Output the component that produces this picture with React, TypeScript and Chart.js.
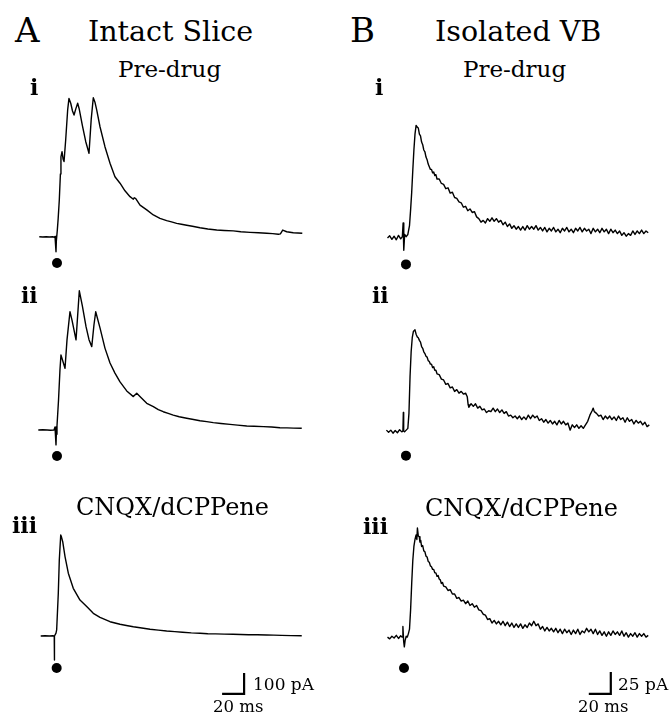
import React, { useEffect, useRef } from "react";
import { Chart, registerables } from "chart.js";

Chart.register(...registerables);

type Pt = [number, number]; // [time in ms relative to stimulus, current in pA]

// ---------- DATA ----------
// A: Intact slice (100 pA scale)
const traceAi: Pt[] = [
  [-15.2, 1], [-12, 0], [-9, 1.5], [-6, 0], [-3, 1], [-1.5, -1], [-0.9, 3], [0, -70], [0.3, -20], [1.2, 33],
  [2, 90], [3, 176], [4, 300], [4.5, 382], [5.5, 406], [6.5, 370], [7.3, 359], [8.8, 462], [10.6, 605],
  [11.8, 660], [13.4, 637], [15, 600], [16.4, 581], [18, 610], [19.7, 637], [21, 612], [24, 530], [27, 455],
  [30, 399], [32, 560], [33.9, 663], [35.5, 640], [37, 605], [40, 525], [44.5, 430], [49.1, 351], [53.6, 287],
  [58.2, 256], [62.7, 220], [67.3, 192], [70.3, 180], [71.2, 187], [72.5, 183], [76.4, 152], [82.5, 129],
  [88.5, 105], [94.5, 89], [100.6, 78], [105, 72], [109.7, 65], [114, 61], [118.8, 56], [124, 51], [130.9, 44],
  [138, 38], [146.1, 33], [153, 31], [161.2, 29], [168, 25], [176.4, 22], [184, 20], [191.5, 18], [197, 16],
  [202.1, 13], [204, 15], [206.1, 33], [209.7, 25], [215.7, 20], [223.9, 18],
];

const traceAii: Pt[] = [
  [-16.1, 0], [-12, 1], [-8, 0], [-5, -1], [-1.8, 0], [-0.9, 14], [0, -71], [0.3, -20], [0.9, 19], [2.3, 143],
  [3.6, 286], [4.5, 357], [5.9, 333], [8.2, 294], [10, 429], [12.7, 563], [14.5, 524], [18.2, 429], [21.2, 663],
  [24, 590], [27.3, 492], [30, 430], [32.5, 397], [34.5, 500], [36.1, 563], [40, 486], [44.5, 390], [49.1, 319],
  [53.6, 271], [58.2, 229], [64.3, 186], [70.3, 159], [73.4, 175], [77.9, 151], [82.5, 127], [88.5, 111],
  [93, 97], [97.5, 87], [102, 79], [106.6, 71], [112, 63], [118.8, 56], [125, 50], [130.9, 44], [137, 40],
  [143, 35], [150, 31], [158.2, 27], [165, 23], [173.4, 19], [180, 18], [188.5, 16], [196, 14], [203.6, 11],
  [210, 10], [216, 9], [223.4, 8],
];

const traceAiii: Pt[] = [
  [-13.9, 0], [-10, 1], [-6, 0], [-3, 1], [-1.6, 0], [-1.5, -114], [-1.3, 0], [0, 14], [0.6, 29], [2.1, 205],
  [3, 362], [4.3, 481], [5, 471], [6.1, 449], [8.2, 378], [11.2, 299], [15.7, 227], [21.8, 171], [27.9, 140],
  [33.9, 108], [40, 89], [49.1, 68], [58.2, 56], [64, 50], [70.3, 44], [78, 38], [85.5, 32], [93, 28],
  [100.6, 24], [108, 21], [115, 18], [123, 15], [130.9, 13], [138, 11], [145, 10], [153, 9], [160.9, 8],
  [168, 7], [175, 6], [183, 6], [191.5, 5], [198, 4], [205, 3], [214, 2], [223.4, 1],
];

// B: Isolated VB (25 pA scale)
const traceBi: Pt[] = [
  [-15, 0], [-13, 2.5], [-11, -1.5], [-9, 2], [-7, -2], [-5, 3], [-3, -1], [-1.5, 1.5], [-0.8, 17], [-0.2, -14],
  [0.6, 4], [2, 1.5], [3.5, 4], [5, 14], [6, 32], [7, 52], [8, 77], [9, 100], [10, 118], [11, 128], [12, 126],
  [13, 125], [14, 118], [15, 116], [16, 109], [17, 106], [18, 100], [19, 98], [20, 92], [21, 89], [22, 84],
  [23, 81], [24, 78], [25, 78], [26, 74], [27, 75], [28, 71], [29, 72], [30, 67], [32, 67], [34, 62], [36, 61],
  [38, 56], [40, 57], [42, 51], [44, 52], [46, 46], [48, 45], [50, 41], [52, 40], [54, 35], [56, 36], [58, 31],
  [60, 33], [62, 29], [64, 30], [66, 24], [68, 22], [70, 18], [72, 20], [74, 17], [76, 22], [78, 19], [80, 23],
  [82, 19], [84, 22], [86, 18], [88, 20], [90, 15], [92, 18], [94, 13], [96, 16], [98, 11], [100, 14], [102, 10],
  [104, 13], [106, 9], [108, 13], [110, 9], [112, 14], [114, 10], [116, 13], [118, 10], [120, 14], [122, 9],
  [124, 12], [126, 8], [128, 12], [130, 7], [132, 11], [134, 8], [136, 12], [138, 7], [140, 10], [142, 6],
  [144, 11], [146, 8], [148, 12], [150, 7], [152, 10], [154, 6], [156, 11], [158, 8], [160, 12], [162, 7],
  [164, 11], [166, 8], [168, 10], [170, 5], [172, 11], [174, 7], [176, 10], [178, 6], [180, 11], [182, 7],
  [184, 10], [186, 5], [188, 10], [190, 6], [192, 9], [194, 5], [196, 8], [198, 3], [200, 6], [202, 2], [204, 5],
  [206, 3], [208, 8], [210, 4], [212, 8], [214, 5], [216, 9], [218, 5], [220, 8], [222, 6],
];

const traceBii: Pt[] = [
  [-16, 1], [-14, -1.5], [-12, 1], [-10, -2.5], [-8, 0.5], [-6, -2], [-4, 1.5], [-2, -1], [-1, 0], [-0.6, 21],
  [-0.3, 0], [0.5, -1], [2, 1], [3.5, 3], [4.5, 20], [5.5, 62], [6.5, 90], [7.5, 106], [8.5, 113], [10, 115],
  [11, 110], [12, 107], [13, 106], [14, 103], [15, 101], [16, 96], [17, 94], [18, 90], [19, 88], [20, 85],
  [21, 84], [22, 80], [23, 79], [24, 76], [25, 76], [26, 72], [27, 73], [28, 69], [29, 69], [30, 65], [32, 64],
  [34, 59], [36, 58], [38, 53], [40, 54], [42, 49], [44, 50], [46, 45], [48, 47], [50, 43], [52, 45], [54, 42],
  [56, 43], [57.5, 39], [58.3, 30], [59, 27], [61, 31], [63, 28], [65, 31], [67, 26], [69, 28], [71, 24],
  [73, 25], [75, 21], [77, 23], [79, 22], [81, 26], [83, 22], [85, 25], [87, 21], [89, 24], [91, 20], [93, 22],
  [95, 17], [97, 18], [99, 15], [101, 17], [103, 14], [105, 17], [107, 13], [109, 16], [111, 13], [113, 18],
  [115, 14], [117, 18], [119, 15], [121, 17], [123, 12], [125, 14], [127, 10], [129, 13], [131, 9], [133, 12],
  [135, 8], [137, 11], [139, 7], [141, 12], [143, 8], [145, 11], [147, 7], [149, 9], [151, 1], [153, 7],
  [155, 4], [157, 7], [159, 3], [161, 6], [163, 3], [165, 7], [167, 11], [169, 18], [171, 23], [172, 26],
  [173, 22], [175, 20], [177, 17], [179, 18], [181, 13], [183, 17], [185, 14], [187, 17], [189, 13], [191, 16],
  [193, 12], [195, 17], [197, 13], [199, 15], [201, 10], [203, 15], [205, 11], [207, 13], [209, 8], [211, 12],
  [213, 9], [215, 11], [217, 7], [219, 10], [221, 5], [223, 7],
];

const traceBiii: Pt[] = [
  [-15, 1], [-13, -1], [-11, 2], [-9, 0], [-7, 3], [-5, -0.5], [-3, 2.5], [-1.8, 1], [-1, 13], [-0.3, -4],
  [0.3, -10], [1, -3], [2, 2], [3, 1], [4, 5], [5, 10], [6, 32], [7, 62], [8, 88], [9, 104], [10, 112],
  [11, 117], [11.7, 112], [12.2, 125], [13, 116], [13.9, 115], [14.5, 109], [15.2, 111], [16, 104], [17, 105],
  [18, 99], [19, 98], [20, 93], [21, 92], [22, 87], [23, 86], [24, 82], [25, 81], [26, 78], [27, 78], [28, 74],
  [29, 74], [30, 70], [31, 71], [32, 67], [33, 66], [34, 62], [35, 63], [36, 59], [38, 58], [40, 54], [42, 55],
  [44, 50], [46, 50], [48, 45], [50, 46], [52, 42], [54, 43], [56, 39], [58, 42], [60, 37], [62, 39], [64, 35],
  [66, 37], [68, 32], [70, 31], [72, 27], [74, 26], [76, 21], [78, 22], [80, 17], [82, 20], [84, 16], [86, 19],
  [88, 15], [90, 19], [92, 14], [94, 18], [96, 13], [98, 17], [100, 12], [102, 16], [104, 12], [106, 16],
  [108, 11], [110, 15], [112, 12], [114, 17], [116, 14], [118, 19], [120, 14], [122, 16], [124, 10], [126, 13],
  [128, 8], [130, 12], [132, 8], [134, 11], [136, 7], [138, 11], [140, 6], [142, 10], [144, 5], [146, 10],
  [148, 6], [150, 9], [152, 4], [154, 9], [156, 5], [158, 10], [160, 4], [162, 8], [164, 6], [166, 11], [168, 7],
  [170, 10], [172, 5], [174, 10], [176, 4], [178, 8], [180, 3], [182, 7], [184, 2], [186, 7], [188, 3], [190, 8],
  [192, 4], [194, 7], [196, 3], [198, 8], [200, 2], [202, 6], [204, 1], [206, 5], [208, 2], [210, 6], [212, 1],
  [214, 5], [216, 2], [218, 5], [220, 1], [222, 3],
];

// stimulus markers (time ms, level pA in each panel's units)
const stimDotMs = [0.9, 0.9, 0.6, 1.8, 1.8, 0];
const stimDotPA = [-124, -124, -152, -30, -28, -34];

// scale bars
const scaleBarMs = 20;
const scaleBarPA_A = 100;
const scaleBarPA_B = 25;

// text
const columnLetters = ["A", "B"];
const columnTitles = ["Intact Slice", "Isolated VB"];
const conditionLabels = ["Pre-drug", "CNQX/dCPPene"];
const rowLabels = ["i", "ii", "iii"];
const scaleLabelsA = ["100 pA", "20 ms"];
const scaleLabelsB = ["25 pA", "20 ms"];

// ---------- LAYOUT ----------
const FONT = "'DejaVu Serif', 'Liberation Serif', serif";

interface PanelCfg {
  left: number; top: number; width: number; height: number;
  stimX: number; baseY: number; pxPerMs: number; pxPerPA: number;
  trace: Pt[]; dotMs: number; dotPA: number;
  bar?: { t0: number; y0: number; ms: number; pA: number };
}

const A = { pxPerMs: 1.1, pxPerPA: 0.21 };
const B = { pxPerMs: 1.1, pxPerPA: 0.88 };

const panels: PanelCfg[] = [
  { left: 30, top: 90, width: 290, height: 185, stimX: 56, baseY: 237, ...A, trace: traceAi, dotMs: stimDotMs[0], dotPA: stimDotPA[0] },
  { left: 30, top: 280, width: 290, height: 185, stimX: 56, baseY: 430, ...A, trace: traceAii, dotMs: stimDotMs[1], dotPA: stimDotPA[1] },
  { left: 30, top: 520, width: 290, height: 185, stimX: 56, baseY: 636, ...A, trace: traceAiii, dotMs: stimDotMs[2], dotPA: stimDotPA[2],
    bar: { t0: 151, y0: -276, ms: scaleBarMs, pA: scaleBarPA_A } },
  { left: 380, top: 90, width: 290, height: 185, stimX: 404, baseY: 238, ...B, trace: traceBi, dotMs: stimDotMs[3], dotPA: stimDotPA[3] },
  { left: 380, top: 280, width: 290, height: 185, stimX: 404, baseY: 431, ...B, trace: traceBii, dotMs: stimDotMs[4], dotPA: stimDotPA[4] },
  { left: 380, top: 520, width: 290, height: 185, stimX: 404, baseY: 638, ...B, trace: traceBiii, dotMs: stimDotMs[5], dotPA: stimDotPA[5],
    bar: { t0: 168, y0: -63.6, ms: scaleBarMs, pA: scaleBarPA_B } },
];

function TracePanel({ cfg }: { cfg: PanelCfg }) {
  const ref = useRef<HTMLCanvasElement>(null);
  useEffect(() => {
    if (!ref.current) return;
    const xMin = -(cfg.stimX - cfg.left) / cfg.pxPerMs;
    const xMax = xMin + cfg.width / cfg.pxPerMs;
    const yMax = (cfg.baseY - cfg.top) / cfg.pxPerPA;
    const yMin = yMax - cfg.height / cfg.pxPerPA;
    const datasets: any[] = [
      {
        data: cfg.trace.map(([x, y]) => ({ x, y })),
        showLine: true, borderColor: "#000", borderWidth: 1.4, pointRadius: 0,
        tension: 0, borderJoinStyle: "round", clip: false,
      },
      {
        data: [{ x: cfg.dotMs, y: cfg.dotPA }],
        showLine: false, pointRadius: 5, pointBackgroundColor: "#000", pointBorderColor: "#000",
        pointBorderWidth: 0, clip: false,
      },
    ];
    if (cfg.bar) {
      const b = cfg.bar;
      datasets.push({
        data: [
          { x: b.t0, y: b.y0 },
          { x: b.t0 + b.ms, y: b.y0 },
          { x: b.t0 + b.ms, y: b.y0 + b.pA },
        ],
        showLine: true, borderColor: "#000", borderWidth: 2.2, pointRadius: 0,
        borderJoinStyle: "miter", borderCapStyle: "butt", clip: false,
      });
    }
    const chart = new Chart(ref.current, {
      type: "scatter",
      data: { datasets },
      options: {
        animation: false, responsive: false, maintainAspectRatio: false, devicePixelRatio: 1,
        layout: { padding: 0, autoPadding: false },
        plugins: { legend: { display: false }, tooltip: { enabled: false }, title: { display: false } },
        events: [],
        scales: {
          x: { type: "linear", display: false, min: xMin, max: xMax },
          y: { type: "linear", display: false, min: yMin, max: yMax },
        },
      } as any,
    });
    return () => chart.destroy();
  }, [cfg]);
  return (
    <canvas
      ref={ref}
      width={cfg.width}
      height={cfg.height}
      style={{ position: "absolute", left: cfg.left, top: cfg.top, width: cfg.width, height: cfg.height }}
    />
  );
}

function Label({ text, x, baseline, size, weight }: { text: string; x: number; baseline: number; size: number; weight?: number }) {
  return (
    <span
      style={{
        position: "absolute", left: x, top: baseline - 0.846 * size, fontFamily: FONT, fontSize: size,
        lineHeight: `${size}px`, whiteSpace: "nowrap", color: "#000", fontWeight: weight ?? 400,
      }}
    >
      {text}
    </span>
  );
}

export default function App() {
  return (
    <div style={{ position: "absolute", left: 0, top: 0, width: 671, height: 715, background: "#fff", overflow: "hidden" }}>
      {panels.map((p, i) => (
        <TracePanel key={i} cfg={p} />
      ))}
      <Label text={columnLetters[0]} x={15} baseline={42} size={34} />
      <Label text={columnTitles[0]} x={88} baseline={42} size={28.5} />
      <Label text={columnLetters[1]} x={350} baseline={42} size={34} />
      <Label text={columnTitles[1]} x={435} baseline={42} size={28.5} />

      <Label text={conditionLabels[0]} x={118} baseline={77} size={23} />
      <Label text={conditionLabels[0]} x={463} baseline={77} size={23} />
      <Label text={conditionLabels[1]} x={76} baseline={515} size={24} />
      <Label text={conditionLabels[1]} x={425} baseline={516} size={24} />

      <Label text={rowLabels[0]} x={30} baseline={95} size={22} weight={700} />
      <Label text={rowLabels[0]} x={375} baseline={95} size={22} weight={700} />
      <Label text={rowLabels[1]} x={21} baseline={303} size={22} weight={700} />
      <Label text={rowLabels[1]} x={372} baseline={303} size={22} weight={700} />
      <Label text={rowLabels[2]} x={12} baseline={533} size={22} weight={700} />
      <Label text={rowLabels[2]} x={363} baseline={534} size={22} weight={700} />

      <Label text={scaleLabelsA[0]} x={253} baseline={690} size={17} />
      <Label text={scaleLabelsA[1]} x={213} baseline={713} size={16.5} />
      <Label text={scaleLabelsB[0]} x={618} baseline={690} size={17} />
      <Label text={scaleLabelsB[1]} x={578} baseline={713} size={16.5} />
    </div>
  );
}
